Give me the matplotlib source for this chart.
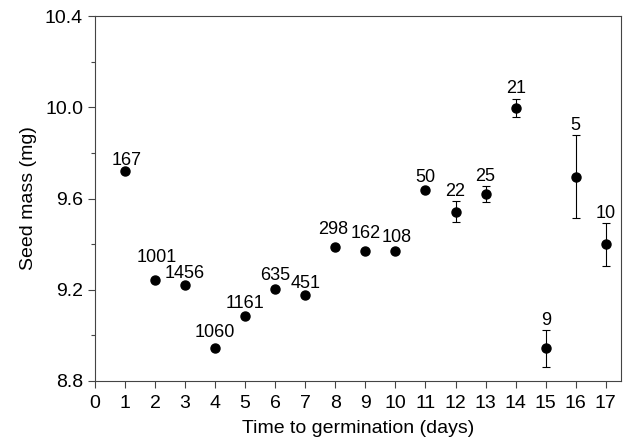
import numpy as np
import matplotlib.pyplot as plt

plt.rcParams['font.family'] = ['Liberation Sans', 'DejaVu Sans']

# days to germination, mean seed mass (mg), error, sample size
days = [1, 2, 3, 4, 5, 6, 7, 8, 9, 10, 11, 12, 13, 14, 15, 16, 17]
mass = [9.72, 9.243, 9.221, 8.945, 9.086, 9.202, 9.175, 9.389, 9.371, 9.371,
        9.637, 9.542, 9.618, 9.998, 8.943, 9.696, 9.399]
err = [0, 0, 0, 0, 0, 0, 0, 0, 0, 0, 0, 0.047, 0.035, 0.039, 0.08, 0.183, 0.093]
n_seeds = ['167', '1001', '1456', '1060', '1161', '635', '451', '298', '162', '108',
           '50', '22', '25', '21', '9', '5', '10']

# label offsets (points) from the top of each marker / error bar
lab_dx = [1, 1, 0, 0, 0, 0, 0, -1.5, 0, 1.2, 0, 0, 0, 0, 0, 0, 0]
lab_dy = [8, 16.5, 8.6, 10.8, 9.1, 10, 8.6, 12.2, 12.2, 9.4, 9.4, 7.2, 7.2, 7.2, 7.2, 7, 7.2]

fig = plt.figure(figsize=(6.24, 4.48), dpi=100)
ax = fig.add_axes([0.152, 0.1496, 0.843, 0.8144])

ax.errorbar(days, mass, yerr=err, fmt='o', color='black', ms=6.5,
            elinewidth=0.8, capsize=3, capthick=0.8)

for x, y, e, s, dx, dy in zip(days, mass, err, n_seeds, lab_dx, lab_dy):
    ax.annotate(s, (x, y + e), xytext=(dx, dy), textcoords='offset points',
                ha='center', va='center', fontsize=13)

ax.set_xlim(0, 17.5)
ax.set_ylim(8.8, 10.4)
ax.set_xticks(range(0, 18))
ax.set_yticks(np.arange(8.8, 10.41, 0.4))
ax.set_yticks(np.arange(9.0, 10.4, 0.4), minor=True)
ax.yaxis.set_major_formatter(plt.FormatStrFormatter('%.1f'))
ax.tick_params(which='major', length=5, width=0.8, labelsize=14, color='#444')
ax.tick_params(which='minor', length=3, width=0.8, color='#444')
ax.tick_params(axis='x', pad=5)
for sp in ax.spines.values():
    sp.set_color('#444')
    sp.set_linewidth(0.8)

ax.set_xlabel('Time to germination (days)', fontsize=14, labelpad=6)
ax.set_ylabel('Seed mass (mg)', fontsize=14, labelpad=6)

fig.savefig('out.png', dpi=100)
